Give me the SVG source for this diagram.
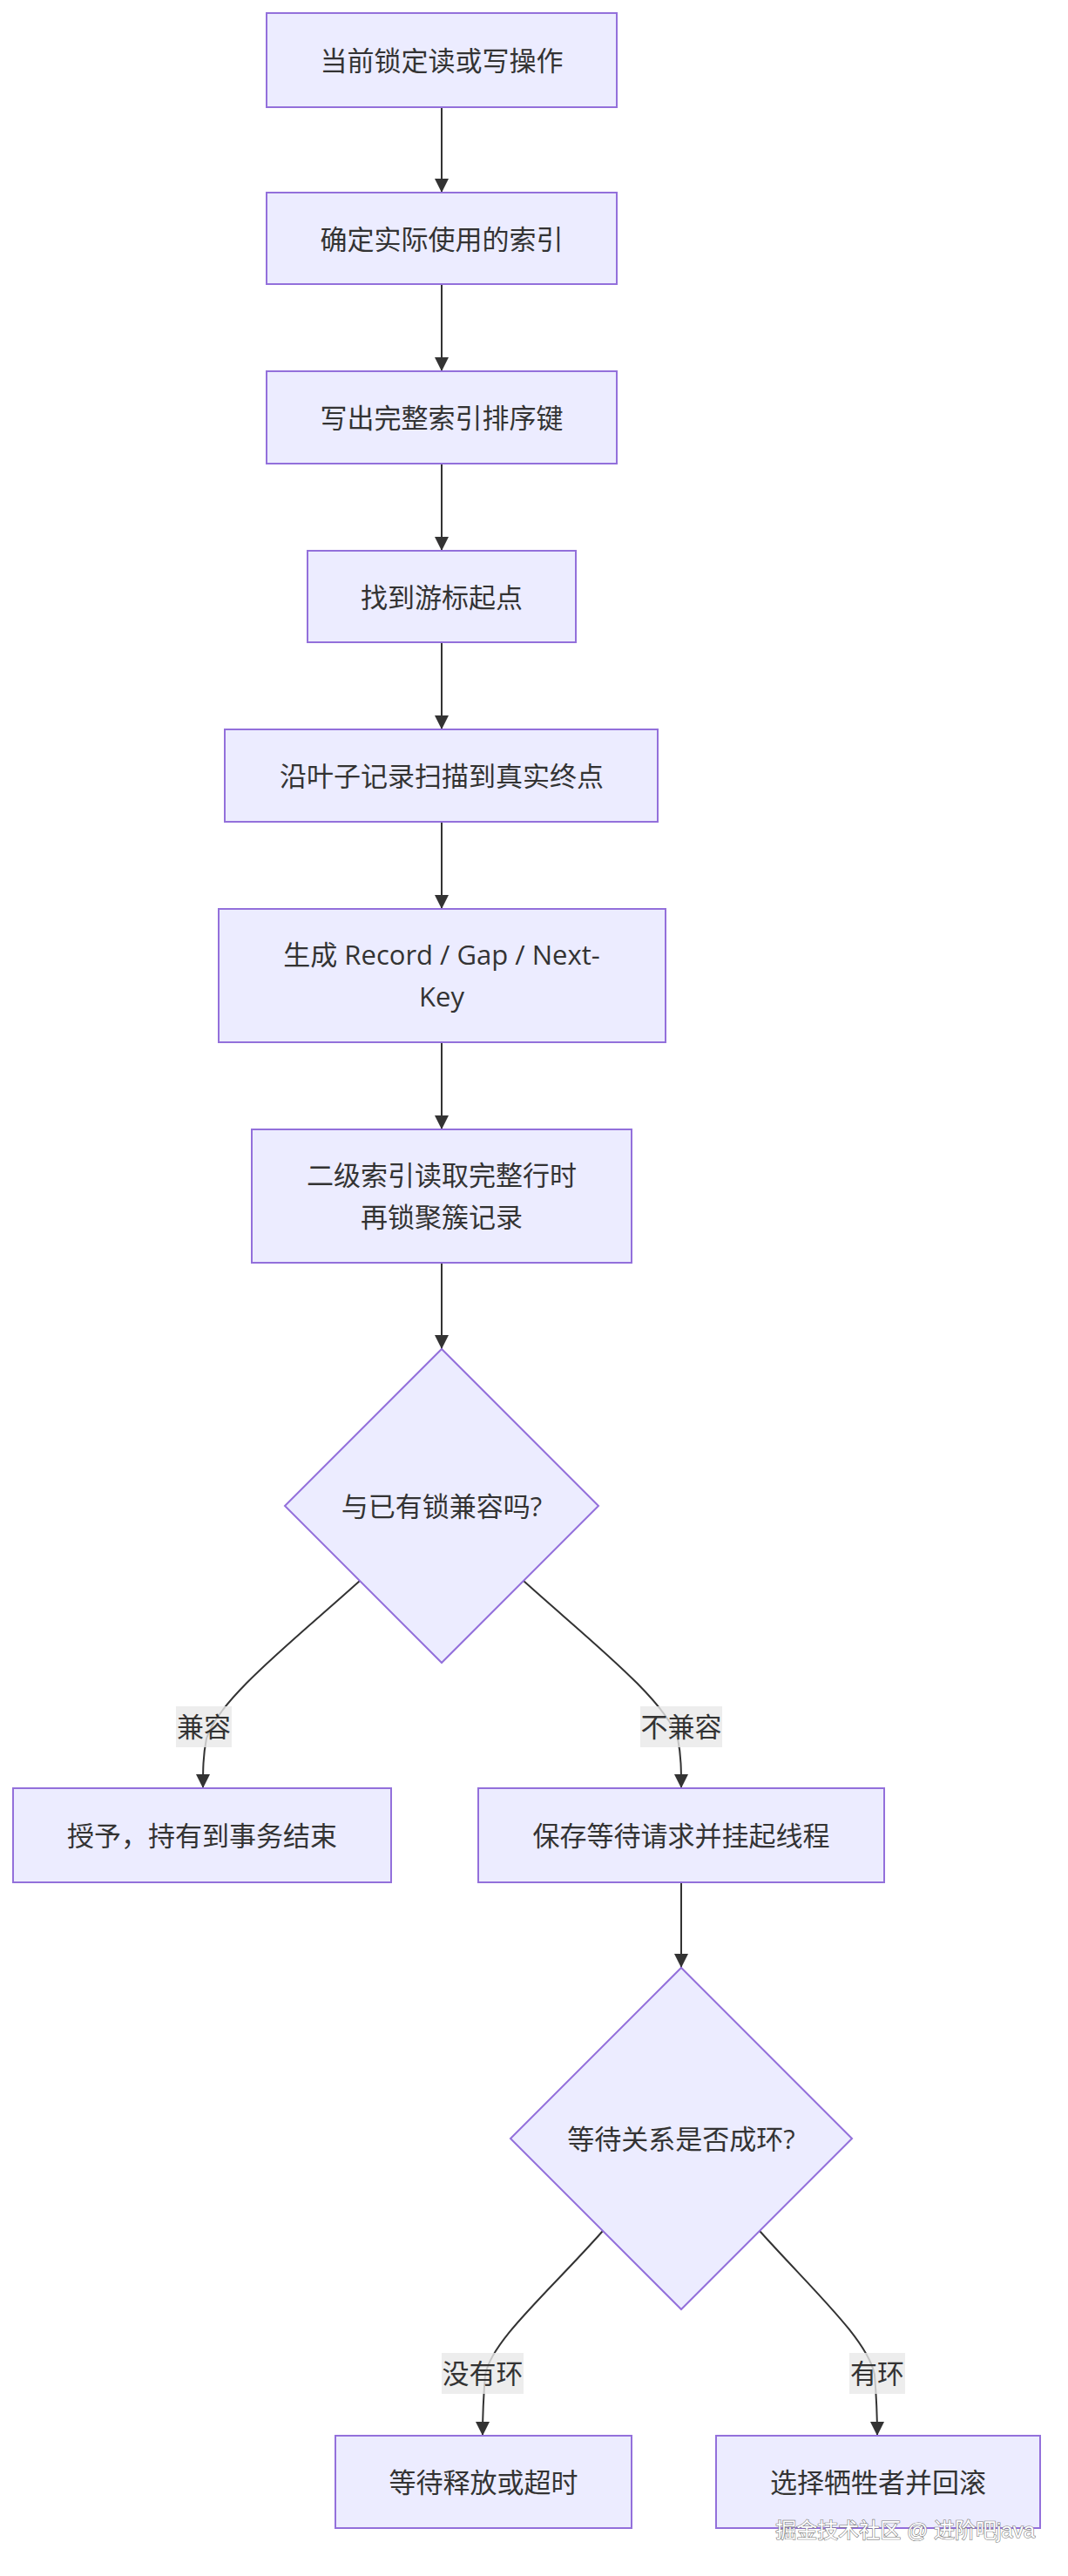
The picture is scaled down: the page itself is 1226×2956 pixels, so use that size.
<svg xmlns="http://www.w3.org/2000/svg" width="1226" height="2956" viewBox="0 0 1226 2956">
<style>
.node rect,.node polygon{fill:#ECECFF;stroke:#9370DB;stroke-width:2}
.t{font-family:"Open Sans","Noto Sans CJK SC",sans-serif;font-size:31px;fill:#333;text-anchor:middle;dominant-baseline:central}
.e{fill:none;stroke:#333;stroke-width:2}
.lb{fill:#e8e8e8;opacity:0.8}
.wm{font-family:"Liberation Sans","Noto Sans CJK SC",sans-serif;font-size:24px;text-anchor:end;dominant-baseline:central}
.wm1{fill:#fff;stroke:#777;stroke-width:1.2;paint-order:stroke}
</style>
<defs>
<marker id="arr" viewBox="0 0 16 16" refX="16" refY="8" markerWidth="16" markerHeight="16" markerUnits="userSpaceOnUse" orient="auto">
<path d="M0,0 L16,8 L0,16 z" fill="#333"/>
</marker>
</defs>
<rect width="1226" height="2956" fill="#fff"/>
<g id="edges">
<path class="e" d="M507,123 V221" marker-end="url(#arr)"/>
<path class="e" d="M507,326 V426" marker-end="url(#arr)"/>
<path class="e" d="M507,532 V632" marker-end="url(#arr)"/>
<path class="e" d="M507,737 V837" marker-end="url(#arr)"/>
<path class="e" d="M507,943 V1043" marker-end="url(#arr)"/>
<path class="e" d="M507,1196 V1296" marker-end="url(#arr)"/>
<path class="e" d="M507,1449 V1548" marker-end="url(#arr)"/>
<path class="e" d="M413,1814 C340,1880 250,1950 237,1995 C233,2015 233,2032 233,2052" marker-end="url(#arr)"/>
<path class="e" d="M601,1814 C674,1880 764,1950 778,1995 C782,2015 782,2032 782,2052" marker-end="url(#arr)"/>
<path class="e" d="M782,2160 V2258" marker-end="url(#arr)"/>
<path class="e" d="M692,2560 C630,2630 565,2685 557,2725 C555,2750 554,2770 554,2795" marker-end="url(#arr)"/>
<path class="e" d="M872,2560 C935,2630 996,2685 1004,2725 C1006,2750 1007,2770 1007,2795" marker-end="url(#arr)"/>
</g>
<g id="edge-labels">
<rect class="lb" x="202" y="1958" width="64" height="47"/>
<text class="t" x="234" y="1981">兼容</text>
<rect class="lb" x="735" y="1958" width="94" height="47"/>
<text class="t" x="782" y="1981">不兼容</text>
<rect class="lb" x="507" y="2700" width="94" height="47"/>
<text class="t" x="554" y="2723">没有环</text>
<rect class="lb" x="975" y="2700" width="64" height="47"/>
<text class="t" x="1007" y="2723">有环</text>
</g>
<g id="n1" class="node"><rect x="306" y="15" width="402" height="108"/><text class="t" x="507" y="69">当前锁定读或写操作</text></g>
<g id="n2" class="node"><rect x="306" y="221" width="402" height="105"/><text class="t" x="507" y="274">确定实际使用的索引</text></g>
<g id="n3" class="node"><rect x="306" y="426" width="402" height="106"/><text class="t" x="507" y="479">写出完整索引排序键</text></g>
<g id="n4" class="node"><rect x="353" y="632" width="308" height="105"/><text class="t" x="507" y="685">找到游标起点</text></g>
<g id="n5" class="node"><rect x="258" y="837" width="497" height="106"/><text class="t" x="507" y="890">沿叶子记录扫描到真实终点</text></g>
<g id="n6" class="node"><rect x="251" y="1043" width="513" height="153"/><text class="t" x="507" y="1095">生成 Record / Gap / Next-</text><text class="t" x="507" y="1143">Key</text></g>
<g id="n7" class="node"><rect x="289" y="1296" width="436" height="153"/><text class="t" x="507" y="1348">二级索引读取完整行时</text><text class="t" x="507" y="1396">再锁聚簇记录</text></g>
<g id="d1" class="node"><polygon points="507,1548 687,1728 507,1908 327,1728"/><text class="t" x="507" y="1728">与已有锁兼容吗?</text></g>
<g id="n8" class="node"><rect x="15" y="2052" width="434" height="108"/><text class="t" x="232" y="2106">授予，持有到事务结束</text></g>
<g id="n9" class="node"><rect x="549" y="2052" width="466" height="108"/><text class="t" x="782" y="2106">保存等待请求并挂起线程</text></g>
<g id="d2" class="node"><polygon points="782,2258 978,2454 782,2650 586,2454"/><text class="t" x="782" y="2454">等待关系是否成环?</text></g>
<g id="n10" class="node"><rect x="385" y="2795" width="340" height="106"/><text class="t" x="555" y="2848">等待释放或超时</text></g>
<g id="n11" class="node"><rect x="822" y="2795" width="372" height="106"/><text class="t" x="1008" y="2848">选择牺牲者并回滚</text></g>
<text class="wm wm1" x="1188" y="2903">掘金技术社区 @ 进阶吧java</text>
</svg>
